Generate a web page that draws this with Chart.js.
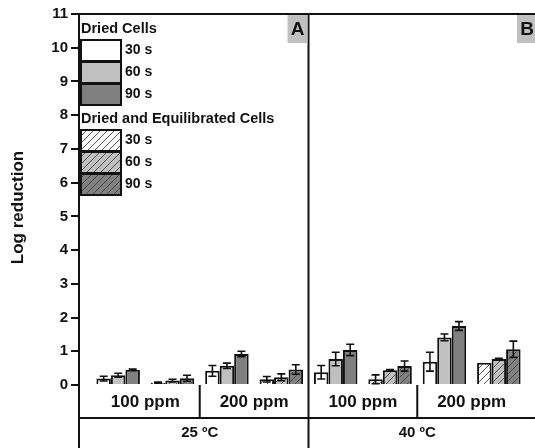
<!DOCTYPE html>
<html>
<head>
<meta charset="utf-8">
<script src="https://cdn.jsdelivr.net/npm/chart.js@4.4.0/dist/chart.umd.min.js"></script>
<style>
  html, body { margin: 0; padding: 0; background: #fff; overflow: hidden; }
  #wrap { width: 545px; height: 448px; }
</style>
</head>
<body>
<div id="wrap"><canvas id="chart" width="545" height="448"></canvas></div>
<script>
// --- Data ---
const temperatures = ['25 ºC', '40 ºC'];
const concentrations = ['100 ppm', '200 ppm'];
const treatments = ['Dried Cells', 'Dried and Equilibrated Cells'];
const times = ['30 s', '60 s', '90 s'];
const panelLabels = ['A', 'B'];
const yTitle = 'Log reduction';
const yTicks = [0, 1, 2, 3, 4, 5, 6, 7, 8, 9, 10, 11];

// groups in order: temperature > concentration > treatment (8 groups)
const reduction30 = [0.19, 0.07, 0.42, 0.17, 0.38, 0.17, 0.69, 0.66];
const reduction60 = [0.29, 0.13, 0.57, 0.23, 0.77, 0.44, 1.41, 0.77];
const reduction90 = [0.45, 0.20, 0.92, 0.46, 1.04, 0.56, 1.75, 1.06];
const error30 = [0.07, 0.02, 0.16, 0.08, 0.20, 0.13, 0.28, 0.00];
const error60 = [0.06, 0.04, 0.08, 0.10, 0.20, 0.02, 0.10, 0.02];
const error90 = [0.02, 0.09, 0.08, 0.14, 0.17, 0.15, 0.13, 0.24];

const reductions = [reduction30, reduction60, reduction90];
const errors = [error30, error60, error90];

// --- Styling ---
const FONT = '"Liberation Sans", Arial, sans-serif';
const INK = '#111';
const LINE = 2;
const timeColors = ['#ffffff', '#c0c0c0', '#808080'];

function makeHatch(base) {
    const s = 7;
    const tile = document.createElement('canvas');
    tile.width = s; tile.height = s;
    const g = tile.getContext('2d');
    g.fillStyle = base;
    g.fillRect(0, 0, s, s);
    g.strokeStyle = '#444';
    g.lineWidth = 0.9;
    g.beginPath();
    g.moveTo(0, s); g.lineTo(s, 0);
    g.moveTo(-1, 1); g.lineTo(1, -1);
    g.moveTo(s - 1, s + 1); g.lineTo(s + 1, s - 1);
    g.stroke();
    return document.createElement('canvas').getContext('2d').createPattern(tile, 'repeat');
}
const hatches = timeColors.map(makeHatch);

const groupsPerTemp = concentrations.length * treatments.length;
const groupCount = temperatures.length * groupsPerTemp;
const groupIndex = Array.from({ length: groupCount }, (_, i) => i);
const treatmentOf = i => i % treatments.length;
const X_PAD = 0.72; // space between axis and first/last group, in group units

function fillFor(k, treatment) {
    return treatment === 0 ? timeColors[k] : hatches[k];
}

// error bars on top of each bar
const errorBarPlugin = {
    id: 'errorBars',
    afterDatasetsDraw(chart) {
        const { ctx } = chart;
        const y = chart.scales.y;
        ctx.save();
        ctx.strokeStyle = INK;
        ctx.lineWidth = 1.6;
        chart.data.datasets.forEach((ds, k) => {
            chart.getDatasetMeta(k).data.forEach((bar, i) => {
                const v = reductions[k][i], e = errors[k][i];
                if (!e) return;
                const top = y.getPixelForValue(v + e);
                const bot = y.getPixelForValue(v - e);
                ctx.beginPath();
                ctx.moveTo(bar.x, top); ctx.lineTo(bar.x, bot);
                ctx.moveTo(bar.x - 4, top); ctx.lineTo(bar.x + 4, top);
                ctx.moveTo(bar.x - 4, bot); ctx.lineTo(bar.x + 4, bot);
                ctx.stroke();
            });
        });
        ctx.restore();
    }
};

// frame, category table under the axis, panel letters, axis title and legend
const decorPlugin = {
    id: 'decor',
    afterDraw(chart) {
        const { ctx, chartArea: a } = chart;
        const x = chart.scales.x;
        const rowH = 33;
        const bottom = chart.height;
        const px = v => x.getPixelForValue(v);

        ctx.save();
        ctx.strokeStyle = INK;
        ctx.lineWidth = LINE;
        ctx.beginPath();
        // top border and outer verticals
        ctx.moveTo(a.left, a.top); ctx.lineTo(a.right, a.top);
        ctx.moveTo(a.left, a.bottom); ctx.lineTo(a.left, bottom);
        ctx.moveTo(a.right, a.top); ctx.lineTo(a.right, bottom);
        // row separator of the table
        ctx.moveTo(a.left, a.bottom + rowH); ctx.lineTo(a.right, a.bottom + rowH);
        // temperature dividers, through the plot
        for (let t = 1; t < temperatures.length; t++) {
            const xp = px(t * groupsPerTemp - 0.5);
            ctx.moveTo(xp, a.top); ctx.lineTo(xp, bottom);
        }
        // concentration dividers, first row only
        temperatures.forEach((_, t) => {
            for (let c = 1; c < concentrations.length; c++) {
                const xp = px(t * groupsPerTemp + c * treatments.length - 0.5);
                ctx.moveTo(xp, a.bottom); ctx.lineTo(xp, a.bottom + rowH);
            }
        });
        ctx.stroke();

        ctx.fillStyle = INK;
        ctx.textAlign = 'center';
        ctx.textBaseline = 'middle';
        ctx.font = 'bold 17px ' + FONT;
        temperatures.forEach((_, t) => {
            concentrations.forEach((label, c) => {
                const first = t * groupsPerTemp + c * treatments.length;
                const mid = first + (treatments.length - 1) / 2;
                ctx.fillText(label, px(mid), a.bottom + rowH / 2 + 1);
            });
        });
        ctx.font = 'bold 15px ' + FONT;
        temperatures.forEach((label, t) => {
            const mid = t * groupsPerTemp + (groupsPerTemp - 1) / 2;
            ctx.fillText(label, px(mid), a.bottom + rowH + (bottom - a.bottom - rowH) / 2);
        });

        // y axis title
        ctx.save();
        ctx.translate(18, (a.top + a.bottom) / 2 + 8);
        ctx.rotate(-Math.PI / 2);
        ctx.font = 'bold 17px ' + FONT;
        ctx.fillText(yTitle, 0, 0);
        ctx.restore();

        // panel letters
        ctx.font = 'bold 19px ' + FONT;
        panelLabels.forEach((label, t) => {
            const right = t === temperatures.length - 1 ? a.right : px((t + 1) * groupsPerTemp - 0.5);
            ctx.fillStyle = '#c0c0c0';
            ctx.fillRect(right - 21, a.top + 1, 20, 28);
            ctx.fillStyle = INK;
            ctx.fillText(label, right - 11, a.top + 16);
        });

        // legend
        const lx = a.left + 2, sw = 40, sh = 21, step = 22;
        let ly = a.top + 15;
        treatments.forEach((tr, ti) => {
            ctx.textAlign = 'left';
            ctx.font = 'bold 14.5px ' + FONT;
            ctx.fillStyle = INK;
            ctx.fillText(tr, lx, ly);
            ly += 11;
            times.forEach((tm, k) => {
                ctx.fillStyle = fillFor(k, ti);
                ctx.fillRect(lx, ly, sw, sh);
                ctx.strokeStyle = INK;
                ctx.lineWidth = LINE;
                ctx.strokeRect(lx, ly, sw, sh);
                ctx.fillStyle = INK;
                ctx.font = 'bold 14px ' + FONT;
                ctx.fillText(tm, lx + sw + 4, ly + sh / 2);
                ly += step;
            });
            ly += 13;
        });
        ctx.restore();
    }
};

const datasets = times.map((t, k) => ({
    label: t,
    data: groupIndex.map(i => ({ x: i, y: reductions[k][i] })),
    backgroundColor: groupIndex.map(i => fillFor(k, treatmentOf(i))),
    borderColor: INK,
    borderWidth: LINE,
    categoryPercentage: 0.8,
    barPercentage: 1.0
}));

new Chart(document.getElementById('chart'), {
    type: 'bar',
    data: { datasets },
    options: {
        responsive: false,
        animation: false,
        layout: { padding: { top: 14, right: 7, bottom: 63, left: 0 } },
        plugins: { legend: { display: false }, tooltip: { enabled: false } },
        scales: {
            x: {
                type: 'linear',
                display: false,
                min: -X_PAD,
                max: groupCount - 1 + X_PAD,
                offset: false
            },
            y: {
                min: yTicks[0],
                max: yTicks[yTicks.length - 1],
                afterBuildTicks: scale => { scale.ticks = yTicks.map(v => ({ value: v })); },
                afterFit: scale => { scale.width = 79; },
                ticks: {
                    color: INK,
                    padding: 3,
                    font: { family: FONT, size: 15, weight: 'bold' }
                },
                grid: { drawOnChartArea: false, tickLength: 8, color: INK, lineWidth: LINE },
                border: { color: INK, width: LINE }
            }
        }
    },
    plugins: [errorBarPlugin, decorPlugin]
});
</script>
</body>
</html>
